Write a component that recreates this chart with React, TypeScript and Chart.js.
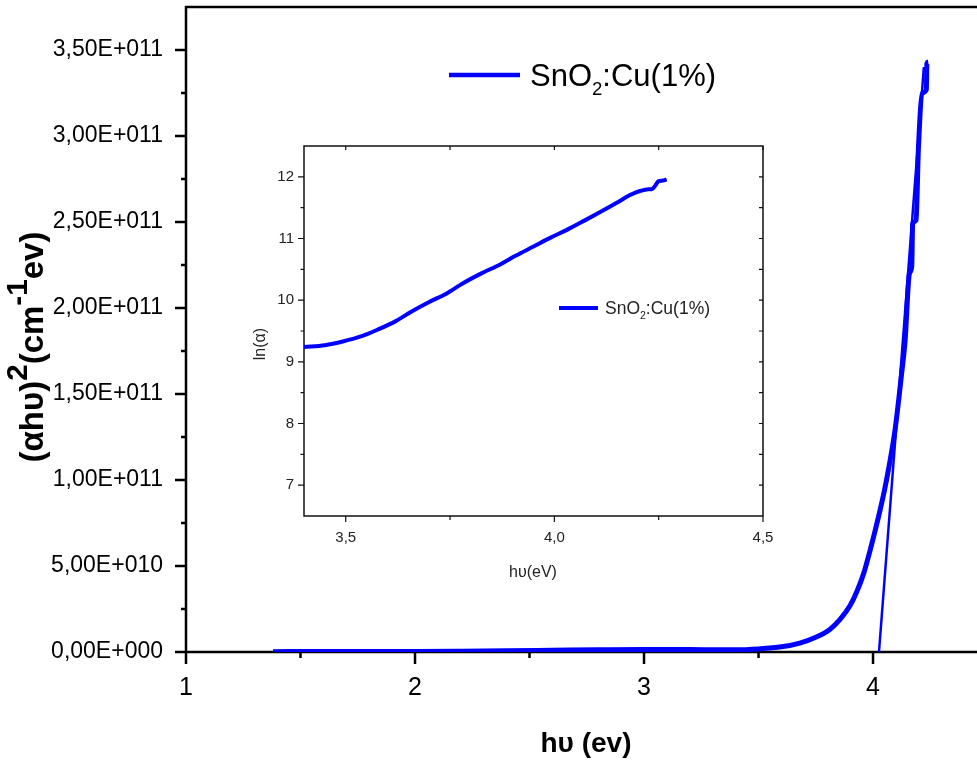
import React, { useEffect, useRef } from 'react';
import { Chart, registerables } from 'chart.js';

Chart.register(...registerables);

const BLUE = '#0000FF';
const FONT = "Arial, 'Liberation Sans', Helvetica, sans-serif";

// ---- main chart data: (alpha h nu)^2 vs h nu ----
const mainX = [1.38, 1.6, 1.8, 2.0, 2.2, 2.4, 2.6, 2.8, 3.0, 3.2, 3.4, 3.5, 3.6, 3.68, 3.75, 3.81, 3.856, 3.9, 3.929, 3.96, 3.987, 4.01, 4.031, 4.05, 4.067, 4.096, 4.125, 4.14, 4.159, 4.169, 4.173, 4.188, 4.198, 4.216, 4.233, 4.235, 4.241];
const mainY = [0.2e9, 0.3e9, 0.3e9, 0.35e9, 0.5e9, 0.7e9, 1.0e9, 1.3e9, 1.5e9, 1.4e9, 1.3e9, 1.8e9, 3.0e9, 5.2e9, 8.6e9, 1.3e10, 1.9e10, 2.7e10, 3.5e10, 4.6e10, 5.9e10, 7.1e10, 8.26e10, 9.4e10, 1.058e11, 1.29e11, 1.62e11, 1.81e11, 2.2e11, 2.24e11, 2.49e11, 2.51e11, 2.92e11, 3.25e11, 3.27e11, 3.42e11, 3.43e11];

// linear fit (Tauc extrapolation)
const fitX = [4.026, 4.222];
const fitY = [0, 3.4e11];

const mainXTicks = [1, 2, 3, 4];
const mainXMinor = [1.5, 2.5, 3.5];
const mainYTicks = [0, 5e10, 1e11, 1.5e11, 2e11, 2.5e11, 3e11, 3.5e11];
const mainYMinor = [2.5e10, 7.5e10, 1.25e11, 1.75e11, 2.25e11, 2.75e11, 3.25e11];

// ---- inset data: ln(alpha) vs h nu ----
const insetX = [3.4, 3.45, 3.493, 3.54, 3.576, 3.62, 3.659, 3.7, 3.742, 3.78, 3.824, 3.87, 3.907, 3.95, 3.99, 4.03, 4.072, 4.11, 4.155, 4.18, 4.205, 4.225, 4.234, 4.242, 4.25, 4.26, 4.269];
const insetY = [9.24, 9.27, 9.33, 9.42, 9.52, 9.66, 9.82, 9.97, 10.11, 10.27, 10.43, 10.58, 10.72, 10.87, 11.01, 11.14, 11.29, 11.43, 11.6, 11.7, 11.77, 11.8, 11.8, 11.86, 11.93, 11.94, 11.96];

const insetXTicks = [3.5, 4.0, 4.5];
const insetXMinor = [3.75, 4.25];
const insetYTicks = [7, 8, 9, 10, 11, 12];
const insetYMinor = [7.5, 8.5, 9.5, 10.5, 11.5];

const sci = (v: number) => {
  if (v === 0) return '0,00E+000';
  const e = Math.floor(Math.log10(v) + 1e-9);
  const m = v / Math.pow(10, e);
  return m.toFixed(2).replace('.', ',') + 'E+' + String(e).padStart(3, '0');
};

type Seg = { t: string; mode?: 'sup' | 'sub' };

function drawRich(
  ctx: CanvasRenderingContext2D,
  segs: Seg[],
  x: number,
  y: number,
  size: number,
  weight: string,
  align: 'left' | 'center',
  smallScale = 0.62,
  supShift = 0.45,
  subShift = 0.28
) {
  const fontOf = (s: Seg) => `${weight} ${s.mode ? size * smallScale : size}px ${FONT}`;
  let total = 0;
  const widths = segs.map((s) => {
    ctx.font = fontOf(s);
    const w = ctx.measureText(s.t).width;
    total += w;
    return w;
  });
  let cx = align === 'center' ? x - total / 2 : x;
  ctx.textBaseline = 'alphabetic';
  ctx.textAlign = 'left';
  segs.forEach((s, i) => {
    ctx.font = fontOf(s);
    let dy = 0;
    if (s.mode === 'sup') dy = -size * supShift;
    if (s.mode === 'sub') dy = size * subShift;
    ctx.fillText(s.t, cx, y + dy);
    cx += widths[i];
  });
}

type DecorCfg = {
  xMajor: number[];
  xMinor: number[];
  yMajor: number[];
  yMinor: number[];
  axisWidth: number;
  tickWidth: number;
  xMajorLen: number;
  xMinorLen: number;
  yMajorLen: number;
  yMinorLen: number;
  color: string;
  top: boolean;
  right: boolean;
  mirrorLen: number;
};

function decorPlugin(cfg: DecorCfg) {
  return {
    id: 'decor',
    beforeDatasetsDraw(chart: any) {
      const { ctx, chartArea: a, scales } = chart;
      const xs = scales.x;
      const ys = scales.y;
      ctx.save();
      ctx.strokeStyle = cfg.color;
      ctx.lineCap = 'butt';
      ctx.lineWidth = cfg.tickWidth;
      ctx.beginPath();
      cfg.xMajor.forEach((v) => {
        const p = xs.getPixelForValue(v);
        ctx.moveTo(p, a.bottom);
        ctx.lineTo(p, a.bottom + cfg.xMajorLen);
        if (cfg.top) {
          ctx.moveTo(p, a.top);
          ctx.lineTo(p, a.top + cfg.mirrorLen);
        }
      });
      cfg.xMinor.forEach((v) => {
        const p = xs.getPixelForValue(v);
        ctx.moveTo(p, a.bottom);
        ctx.lineTo(p, a.bottom + cfg.xMinorLen);
        if (cfg.top) {
          ctx.moveTo(p, a.top);
          ctx.lineTo(p, a.top + cfg.mirrorLen);
        }
      });
      cfg.yMajor.forEach((v) => {
        const p = ys.getPixelForValue(v);
        ctx.moveTo(a.left, p);
        ctx.lineTo(a.left - cfg.yMajorLen, p);
        if (cfg.right) {
          ctx.moveTo(a.right, p);
          ctx.lineTo(a.right - cfg.mirrorLen, p);
        }
      });
      cfg.yMinor.forEach((v) => {
        const p = ys.getPixelForValue(v);
        ctx.moveTo(a.left, p);
        ctx.lineTo(a.left - cfg.yMinorLen, p);
        if (cfg.right) {
          ctx.moveTo(a.right, p);
          ctx.lineTo(a.right - cfg.mirrorLen, p);
        }
      });
      ctx.stroke();
      ctx.lineWidth = cfg.axisWidth;
      ctx.beginPath();
      const h = cfg.axisWidth / 2;
      ctx.moveTo(a.left, a.top - h);
      ctx.lineTo(a.left, a.bottom + h);
      ctx.moveTo(a.left - h, a.bottom);
      ctx.lineTo(a.right + (cfg.right ? h : 0), a.bottom);
      ctx.moveTo(a.left - h, a.top);
      ctx.lineTo(a.right + (cfg.right ? h : 0), a.top);
      if (cfg.right) {
        ctx.moveTo(a.right, a.top);
        ctx.lineTo(a.right, a.bottom);
      }
      ctx.stroke();
      ctx.restore();
    },
  };
}

const mainText = {
  id: 'mainText',
  afterDraw(chart: any) {
    const { ctx } = chart;
    ctx.save();
    ctx.fillStyle = '#000';
    ctx.strokeStyle = BLUE;
    ctx.lineWidth = 4.5;
    ctx.beginPath();
    ctx.moveTo(449, 75);
    ctx.lineTo(520, 75);
    ctx.stroke();
    drawRich(ctx, [{ t: 'SnO' }, { t: '2', mode: 'sub' }, { t: ':Cu(1%)' }], 530, 86, 31, 'normal', 'left', 0.6, 0.45, 0.3);
    drawRich(ctx, [{ t: 'hυ (ev)' }], 586, 752, 28, 'bold', 'center');
    ctx.save();
    ctx.translate(43, 347);
    ctx.rotate(-Math.PI / 2);
    drawRich(
      ctx,
      [{ t: '(αhυ)' }, { t: '2', mode: 'sup' }, { t: '(cm' }, { t: '-1', mode: 'sup' }, { t: 'ev)' }],
      0,
      0,
      33,
      'bold',
      'center',
      0.9,
      0.5
    );
    ctx.restore();
    ctx.restore();
  },
};

const insetText = {
  id: 'insetText',
  afterDraw(chart: any) {
    const { ctx } = chart;
    const ox = 240;
    const oy = 130;
    ctx.save();
    ctx.fillStyle = '#222';
    ctx.strokeStyle = BLUE;
    ctx.lineWidth = 4;
    ctx.beginPath();
    ctx.moveTo(559 - ox, 308 - oy);
    ctx.lineTo(598 - ox, 308 - oy);
    ctx.stroke();
    drawRich(ctx, [{ t: 'SnO' }, { t: '2', mode: 'sub' }, { t: ':Cu(1%)' }], 605 - ox, 314 - oy, 17.5, 'normal', 'left', 0.6, 0.45, 0.3);
    drawRich(ctx, [{ t: 'hυ(eV)' }], 533 - ox, 577 - oy, 16, 'normal', 'center');
    ctx.save();
    ctx.translate(265 - ox, 344 - oy);
    ctx.rotate(-Math.PI / 2);
    drawRich(ctx, [{ t: 'ln(α)' }], 0, 0, 16, 'normal', 'center');
    ctx.restore();
    ctx.restore();
  },
};

const zeroPad = (s: any) => {
  s.paddingTop = 0;
  s.paddingBottom = 0;
  s.paddingLeft = 0;
  s.paddingRight = 0;
};

export default function App() {
  const mainRef = useRef<HTMLCanvasElement>(null);
  const insetRef = useRef<HTMLCanvasElement>(null);

  useEffect(() => {
    const mainChart = new Chart(mainRef.current as HTMLCanvasElement, {
      type: 'scatter',
      data: {
        datasets: [
          {
            data: mainX.map((x, i) => ({ x, y: mainY[i] })),
            showLine: true,
            borderColor: BLUE,
            backgroundColor: BLUE,
            borderWidth: 5,
            pointRadius: 0,
            cubicInterpolationMode: 'monotone',
            borderJoinStyle: 'round',
          },
          {
            data: fitX.map((x, i) => ({ x, y: fitY[i] })),
            showLine: true,
            borderColor: BLUE,
            backgroundColor: BLUE,
            borderWidth: 2.5,
            pointRadius: 0,
          },
        ],
      },
      options: {
        responsive: false,
        animation: false,
        devicePixelRatio: 1,
        layout: { padding: { left: 0, right: 0, top: 7, bottom: 0 } },
        plugins: { legend: { display: false }, tooltip: { enabled: false } },
        scales: {
          x: {
            type: 'linear',
            min: 1,
            max: 4.454,
            grid: { display: false, drawTicks: false },
            border: { display: false },
            afterBuildTicks: (s: any) => {
              s.ticks = mainXTicks.map((v) => ({ value: v }));
            },
            afterFit: (s: any) => {
              s.height = 111;
              zeroPad(s);
            },
            ticks: {
              color: '#000',
              font: { size: 25, family: FONT },
              padding: 21,
              maxRotation: 0,
              autoSkip: false,
              callback: (v: any) => String(v),
            },
          },
          y: {
            type: 'linear',
            min: 0,
            max: 3.75e11,
            grid: { display: false, drawTicks: false },
            border: { display: false },
            afterBuildTicks: (s: any) => {
              s.ticks = mainYTicks.map((v) => ({ value: v }));
            },
            afterFit: (s: any) => {
              s.width = 186;
              zeroPad(s);
            },
            ticks: {
              color: '#000',
              font: { size: 23, family: FONT },
              padding: 23,
              autoSkip: false,
              callback: (v: any) => sci(Number(v)),
            },
          },
        },
      } as any,
      plugins: [
        decorPlugin({
          xMajor: mainXTicks,
          xMinor: mainXMinor,
          yMajor: mainYTicks,
          yMinor: mainYMinor,
          axisWidth: 2.5,
          tickWidth: 2.5,
          xMajorLen: 12,
          xMinorLen: 6,
          yMajorLen: 11,
          yMinorLen: 5,
          color: '#000',
          top: false,
          right: false,
          mirrorLen: 0,
        }),
        mainText,
      ],
    });

    const insetChart = new Chart(insetRef.current as HTMLCanvasElement, {
      type: 'scatter',
      data: {
        datasets: [
          {
            data: insetX.map((x, i) => ({ x, y: insetY[i] })),
            showLine: true,
            borderColor: BLUE,
            backgroundColor: BLUE,
            borderWidth: 4,
            pointRadius: 0,
            cubicInterpolationMode: 'monotone',
          },
        ],
      },
      options: {
        responsive: false,
        animation: false,
        devicePixelRatio: 1,
        layout: { padding: { left: 0, right: 17, top: 16, bottom: 0 } },
        plugins: { legend: { display: false }, tooltip: { enabled: false } },
        scales: {
          x: {
            type: 'linear',
            min: 3.4,
            max: 4.5,
            grid: { display: false, drawTicks: false },
            border: { display: false },
            afterBuildTicks: (s: any) => {
              s.ticks = insetXTicks.map((v) => ({ value: v }));
            },
            afterFit: (s: any) => {
              s.height = 74;
              zeroPad(s);
            },
            ticks: {
              color: '#222',
              font: { size: 15, family: FONT },
              padding: 13,
              maxRotation: 0,
              autoSkip: false,
              callback: (v: any) => Number(v).toFixed(1).replace('.', ','),
            },
          },
          y: {
            type: 'linear',
            min: 6.5,
            max: 12.5,
            grid: { display: false, drawTicks: false },
            border: { display: false },
            afterBuildTicks: (s: any) => {
              s.ticks = insetYTicks.map((v) => ({ value: v }));
            },
            afterFit: (s: any) => {
              s.width = 64;
              zeroPad(s);
            },
            ticks: {
              color: '#222',
              font: { size: 15, family: FONT },
              padding: 10,
              autoSkip: false,
              callback: (v: any) => String(v),
            },
          },
        },
      } as any,
      plugins: [
        decorPlugin({
          xMajor: insetXTicks,
          xMinor: insetXMinor,
          yMajor: insetYTicks,
          yMinor: insetYMinor,
          axisWidth: 1.5,
          tickWidth: 1.2,
          xMajorLen: 6,
          xMinorLen: 4,
          yMajorLen: 6,
          yMinorLen: 3.5,
          color: '#111',
          top: true,
          right: true,
          mirrorLen: 4,
        }),
        insetText,
      ],
    });

    return () => {
      mainChart.destroy();
      insetChart.destroy();
    };
  }, []);

  return (
    <div style={{ position: 'absolute', left: 0, top: 0, width: 977, height: 763, background: '#fff', overflow: 'hidden' }}>
      <canvas ref={mainRef} width={977} height={763} style={{ position: 'absolute', left: 0, top: 0 }} />
      <canvas ref={insetRef} width={540} height={460} style={{ position: 'absolute', left: 240, top: 130 }} />
    </div>
  );
}
